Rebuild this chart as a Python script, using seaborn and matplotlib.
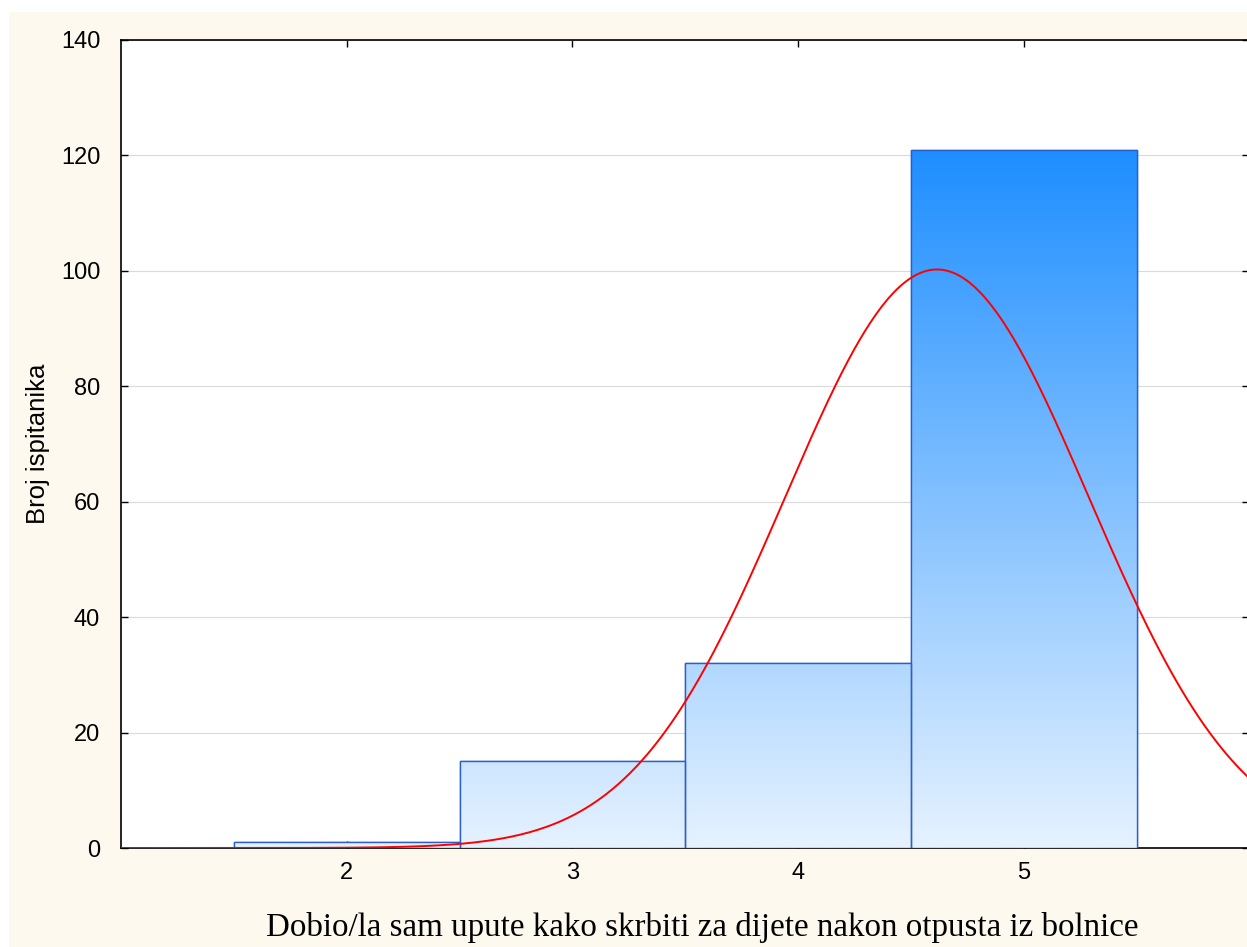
import numpy as np
import pandas as pd
import matplotlib
matplotlib.use("Agg")
import matplotlib.pyplot as plt
import seaborn as sns
from matplotlib.colors import LinearSegmentedColormap
from matplotlib.patches import Rectangle

# data
ocjene = [2, 3, 4, 5]
broj = [1, 15, 32, 121]
yticks = [0, 20, 40, 60, 80, 100, 120, 140]
xticks = [2, 3, 4, 5]

df = pd.DataFrame({"ocjena": ocjene, "broj": broj})

sns.set_style("white")
plt.rcParams["font.family"] = ["Liberation Sans", "DejaVu Sans"]
plt.rcParams["text.color"] = "black"
plt.rcParams["axes.labelcolor"] = "black"

fig = plt.figure(figsize=(12.47, 9.47), dpi=100)
fig.patch.set_facecolor("white")
fig.patches.append(Rectangle((9 / 1247, 0), 1, 1 - 12 / 947, transform=fig.transFigure,
                             facecolor="#FDF9EE", edgecolor="none", zorder=-10))
ax = fig.add_axes([121 / 1247, 1 - 848 / 947, 1 - 121 / 1247 + 0.002, (848 - 40) / 947])
ax.set_facecolor("white")

sns.histplot(data=df, x="ocjena", weights="broj", discrete=True, ax=ax,
             color="#9CC8F8", edgecolor="#2A5FD0", linewidth=1, alpha=1, zorder=3)

# gradient fill inside each bar (absolute height)
cmap = LinearSegmentedColormap.from_list("grad", ["#E6F2FF", "#1E8EFF"])
grad = np.linspace(0, 1, 256).reshape(-1, 1)
for bar in ax.patches:
    im = ax.imshow(grad, cmap=cmap, origin="lower", aspect="auto",
                   extent=[1, 6, 0, max(broj)], zorder=3.5, interpolation="bilinear")
    im.set_clip_path(bar)
    edge = Rectangle(bar.get_xy(), bar.get_width(), bar.get_height(),
                     facecolor="none", edgecolor="#2A5FD0", linewidth=1, zorder=4)
    ax.add_patch(edge)

# normal curve fitted to the data
vals = np.repeat(ocjene, broj)
mu, sd = vals.mean(), vals.std(ddof=1)
xs = np.linspace(1, 6, 400)
ys = len(vals) * np.exp(-0.5 * ((xs - mu) / sd) ** 2) / (sd * np.sqrt(2 * np.pi))
sns.lineplot(x=xs, y=ys, ax=ax, color="red", linewidth=1.4, zorder=5)

ax.set_xlim(1, 6)
ax.set_ylim(0, 140)
ax.set_xticks(xticks)
ax.set_yticks(yticks)
ax.yaxis.grid(True, color="#DADADA", linewidth=0.8, zorder=0)
ax.set_axisbelow(True)
ax.tick_params(axis="both", direction="in", length=5, width=1, labelsize=17,
               top=True, right=True, bottom=True, left=True, colors="black")
ax.tick_params(axis="y", pad=15)
ax.tick_params(axis="x", pad=10)
for s in ["left", "top", "bottom"]:
    ax.spines[s].set_color("black")
    ax.spines[s].set_linewidth(1.2)
ax.spines["right"].set_visible(False)

ax.set_xlabel("Dobio/la sam upute kako skrbiti za dijete nakon otpusta iz bolnice",
              fontsize=23.8, family=["Liberation Serif", "DejaVu Serif"], labelpad=20)
ax.xaxis.label.set_x(0.5155)
ax.set_ylabel("Broj ispitanika", fontsize=18.5, labelpad=8)

fig.savefig("out.png", dpi=100)
